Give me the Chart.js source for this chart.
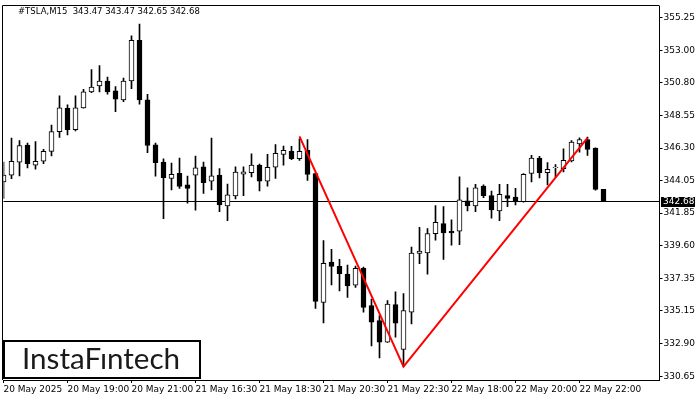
<!DOCTYPE html>
<html>
<head>
<meta charset="utf-8">
<style>
html, body { margin: 0; padding: 0; background: #fff; }
#wrap { width: 700px; height: 400px; position: relative; }
</style>
<script src="https://cdn.jsdelivr.net/npm/chart.js@4.4.1/dist/chart.umd.min.js"></script>
</head>
<body>
<div id="wrap"><canvas id="tslaChart"></canvas></div>
<script>
// TSLA M15 candles
const opens = [343.99, 344.45, 345.33, 346.50, 345.13, 345.40, 346.08, 347.43, 349.02, 347.57,
    349.06, 350.15, 350.56, 350.90, 350.22, 349.61, 350.90, 353.68, 349.61, 346.52,
    345.35, 344.22, 344.58, 343.79, 344.45, 345.01, 344.04, 344.45, 342.34, 343.02,
    344.51, 344.62, 345.13, 344.04, 344.99, 345.87, 346.08, 345.57, 346.14, 344.56,
    335.73, 338.49, 338.20, 337.66, 336.91, 338.07, 335.51, 334.49, 333.01, 335.57,
    332.50, 335.05, 339.08, 339.12, 340.44, 341.12, 340.60, 340.60, 342.68, 342.34,
    343.70, 343.04, 342.00, 343.04, 342.95, 342.63, 344.56, 345.62, 344.62, 344.96,
    344.89, 345.42, 346.59, 346.89, 346.30, 343.47];
const highs = [345.35, 346.98, 346.82, 346.64, 346.75, 346.21, 347.88, 349.88, 349.27, 349.88,
    350.33, 351.68, 351.96, 351.17, 350.51, 351.10, 353.99, 354.79, 349.99, 346.64,
    345.57, 345.28, 345.62, 344.38, 345.76, 345.35, 346.98, 344.89, 343.84, 345.01,
    345.01, 345.91, 345.21, 345.87, 346.55, 346.44, 346.42, 346.93, 346.89, 344.60,
    339.97, 339.36, 338.68, 338.29, 338.22, 338.15, 335.96, 334.83, 335.85, 336.46,
    336.34, 339.51, 340.87, 340.78, 342.36, 342.29, 341.39, 344.33, 343.58, 343.81,
    343.79, 343.36, 343.81, 343.81, 343.54, 344.56, 345.80, 345.74, 345.30, 345.17,
    346.25, 346.82, 347.00, 347.05, 346.32, 343.47];
const lows = [342.86, 344.20, 344.40, 344.94, 344.85, 345.23, 345.76, 347.03, 347.20, 347.47,
    349.04, 350.10, 350.15, 349.99, 348.79, 349.49, 350.37, 349.31, 345.98, 344.38,
    341.46, 343.43, 343.54, 342.52, 342.04, 343.20, 343.43, 341.95, 341.32, 342.82,
    343.04, 344.33, 343.36, 343.70, 344.22, 345.13, 345.51, 345.46, 344.08, 335.32,
    334.32, 336.93, 336.52, 336.07, 336.75, 335.05, 332.74, 331.93, 332.98, 333.35,
    331.32, 334.26, 338.38, 337.66, 339.99, 338.68, 339.65, 339.69, 342.00, 341.95,
    342.90, 341.50, 341.32, 342.29, 342.41, 342.59, 343.99, 344.26, 343.77, 344.33,
    344.67, 345.35, 346.03, 345.80, 343.42, 342.65];
const closes = [344.45, 345.40, 346.48, 345.23, 345.40, 346.08, 347.43, 349.06, 347.57, 349.06,
    350.15, 350.49, 350.90, 350.15, 349.65, 350.90, 353.68, 349.61, 346.48, 345.30,
    344.28, 344.51, 343.67, 343.54, 344.94, 343.94, 344.40, 342.41, 343.09, 344.65,
    344.67, 345.13, 344.04, 344.99, 345.94, 346.14, 345.57, 346.08, 344.49, 335.80,
    338.40, 338.20, 337.70, 336.86, 338.07, 335.39, 334.37, 333.01, 335.62, 334.30,
    335.17, 339.10, 339.24, 340.44, 341.21, 340.48, 340.48, 342.75, 342.34, 343.58,
    343.04, 342.07, 343.13, 342.86, 342.68, 344.51, 345.62, 344.62, 344.85, 345.00,
    345.46, 346.71, 346.89, 346.21, 343.47, 342.68];

const symbol = '#TSLA,M15';
const timeLabels = ['20 May 2025', '20 May 19:00', '20 May 21:00', '21 May 16:30', '21 May 18:30',
    '21 May 20:30', '21 May 22:30', '22 May 18:00', '22 May 20:00', '22 May 22:00'];
const labelStep = 8;      // one time label every 8 bars
const barSlots = 83;      // bars + empty room on the right
const priceTicks = [355.25, 353.00, 350.80, 348.55, 346.30, 344.05, 341.85, 339.60, 337.35, 335.15, 332.90, 330.65];
const priceMin = 330.41;
const priceMax = 356.01;

// red V pattern: bar index and price of each corner
const patternBars = [37, 50, 73];
const patternPrices = [347.10, 331.32, 347.00];

const lastIdx = closes.length - 1;
const lastPrice = closes[lastIdx];

const labels = [];
for (let i = 0; i < barSlots; i++) {
    labels.push(i % labelStep === 0 ? (timeLabels[i / labelStep] || '') : '');
}

const patternData = labels.map(() => null);
patternBars.forEach((b, k) => { patternData[b] = patternPrices[k]; });

const axisFont = { family: 'DejaVu Sans', size: 9 };

const overlay = {
    id: 'overlay',
    beforeDatasetsDraw(chart) {
        const { ctx, chartArea: a, scales: { y } } = chart;
        const py = Math.round(y.getPixelForValue(lastPrice)) + 0.5;
        ctx.save();
        ctx.strokeStyle = '#000';
        ctx.lineWidth = 1;
        ctx.beginPath();
        ctx.moveTo(a.left, py);
        ctx.lineTo(a.right, py);
        ctx.stroke();
        ctx.restore();
    },
    afterDraw(chart) {
        const { ctx, chartArea: a, scales: { y } } = chart;
        ctx.save();
        // frame left / top
        ctx.strokeStyle = '#000';
        ctx.lineWidth = 1;
        ctx.beginPath();
        ctx.moveTo(Math.floor(a.left) - 0.5, a.bottom);
        ctx.lineTo(Math.floor(a.left) - 0.5, Math.floor(a.top) - 0.5);
        ctx.lineTo(a.right, Math.floor(a.top) - 0.5);
        ctx.stroke();

        // last price box on the axis
        const py = Math.round(y.getPixelForValue(lastPrice));
        ctx.fillStyle = '#000';
        ctx.fillRect(Math.ceil(a.right) + 1, py - 4, 34, 10);
        ctx.fillStyle = '#fff';
        ctx.font = '9px "DejaVu Sans"';
        ctx.textBaseline = 'middle';
        ctx.textAlign = 'left';
        ctx.fillText(lastPrice.toFixed(2), Math.ceil(a.right) + 3, py + 1);

        // header text
        ctx.fillStyle = '#000';
        ctx.textBaseline = 'alphabetic';
        ctx.font = '8.5px "DejaVu Sans"';
        const head = symbol + '  ' + [opens[lastIdx], highs[lastIdx], lows[lastIdx], closes[lastIdx]]
            .map(v => v.toFixed(2)).join(' ');
        ctx.fillText(head, 18, 14);

        // logo
        ctx.fillStyle = '#fff';
        ctx.fillRect(4, 341, 196, 37);
        ctx.strokeStyle = '#000';
        ctx.lineWidth = 2;
        ctx.strokeRect(4, 341, 196, 37);
        const logo = 'InstaF\u0131ntech';
        ctx.font = '100px Lato';
        const size = 100 * 158 / ctx.measureText(logo).width;
        ctx.font = size.toFixed(1) + 'px Lato';
        ctx.fillStyle = '#1a1a1a';
        ctx.fillText(logo, 22, 369);
        ctx.restore();
    }
};

new Chart(document.getElementById('tslaChart').getContext('2d'), {
    data: {
        labels: labels,
        datasets: [{
            type: 'line',
            data: patternData,
            borderColor: '#ff0000',
            borderWidth: 2,
            pointRadius: 0,
            spanGaps: true,
            order: 0
        }, {
            type: 'bar',
            data: opens.map((o, i) => [o, closes[i]]),
            backgroundColor: opens.map((o, i) => closes[i] >= o ? '#fff' : '#000'),
            borderColor: '#000',
            borderWidth: 1,
            borderSkipped: false,
            barThickness: 5,
            grouped: false,
            order: 1
        }, {
            type: 'bar',
            data: lows.map((l, i) => [l, highs[i]]),
            backgroundColor: '#000',
            borderWidth: 0,
            barThickness: 1,
            grouped: false,
            order: 2
        }]
    },
    options: {
        responsive: true,
        maintainAspectRatio: false,
        animation: false,
        events: [],
        layout: { padding: { left: 3.5, top: 3, right: 0, bottom: 0 } },
        plugins: {
            legend: { display: false },
            tooltip: { enabled: false }
        },
        scales: {
            x: {
                type: 'category',
                offset: false,
                grid: { drawOnChartArea: false, drawTicks: true, tickLength: 3, color: '#000', offset: false },
                border: { display: true, color: '#000' },
                ticks: { autoSkip: false, maxRotation: 0, align: 'start', padding: 1, color: '#000', font: axisFont },
                afterBuildTicks: s => { s.ticks = s.ticks.filter(t => labels[t.value] !== ''); },
                afterFit: s => { s.height = 20; }
            },
            y: {
                position: 'right',
                min: priceMin,
                max: priceMax,
                grid: { drawOnChartArea: false, drawTicks: true, tickLength: 3, color: '#000' },
                border: { display: true, color: '#000' },
                ticks: { autoSkip: false, padding: 1, color: '#000', font: axisFont, callback: v => v.toFixed(2) },
                afterBuildTicks: s => { s.ticks = priceTicks.map(v => ({ value: v })); },
                afterFit: s => { s.width = 40.5; }
            }
        }
    },
    plugins: [overlay]
});
</script>
</body>
</html>
